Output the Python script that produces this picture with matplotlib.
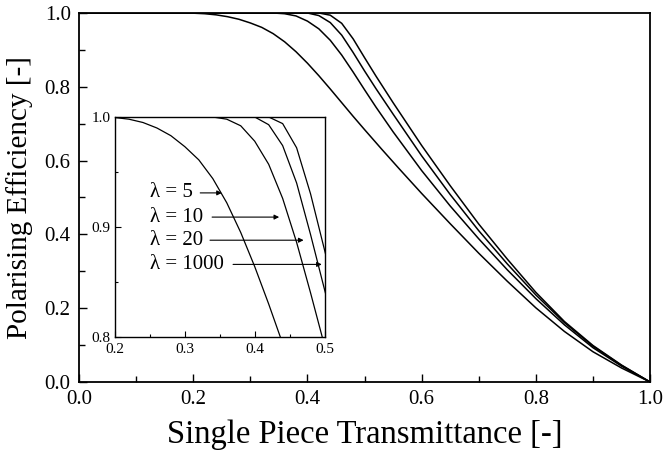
import matplotlib
matplotlib.use("Agg")
import matplotlib.pyplot as plt
from matplotlib.ticker import MultipleLocator, FormatStrFormatter

# ---- data (T = single piece transmittance, P = polarising efficiency) ----
t5 = [0.00, 0.10, 0.18, 0.20, 0.22, 0.24, 0.26, 0.28, 0.30, 0.32, 0.34, 0.36, 0.38,
      0.40, 0.42, 0.44, 0.46, 0.48, 0.50, 0.53, 0.56, 0.60, 0.65, 0.70, 0.75, 0.80,
      0.85, 0.90, 0.95, 1.00]
p5 = [1.000, 1.000, 1.000, 0.9995, 0.998, 0.995, 0.990, 0.983, 0.973, 0.961, 0.944,
      0.922, 0.895, 0.864, 0.830, 0.794, 0.757, 0.720, 0.684, 0.631, 0.579, 0.511,
      0.429, 0.349, 0.273, 0.201, 0.137, 0.082, 0.038, 0.000]

t10 = [0.00, 0.10, 0.20, 0.30, 0.34, 0.36, 0.38, 0.40, 0.42, 0.44, 0.46, 0.48, 0.50,
       0.52, 0.55, 0.60, 0.65, 0.70, 0.75, 0.80, 0.85, 0.90, 0.95, 1.00]
p10 = [1.000, 1.000, 1.000, 1.000, 1.000, 0.998, 0.992, 0.978, 0.957, 0.926, 0.886,
       0.840, 0.792, 0.745, 0.678, 0.573, 0.477, 0.388, 0.304, 0.226, 0.155, 0.093,
       0.043, 0.000]

t20 = [0.00, 0.10, 0.20, 0.30, 0.38, 0.40, 0.42, 0.44, 0.46, 0.48, 0.50, 0.52, 0.55,
       0.60, 0.65, 0.70, 0.75, 0.80, 0.85, 0.90, 0.95, 1.00]
p20 = [1.000, 1.000, 1.000, 1.000, 1.000, 1.000, 0.993, 0.974, 0.940, 0.893, 0.843,
       0.795, 0.726, 0.613, 0.508, 0.410, 0.320, 0.236, 0.161, 0.097, 0.045, 0.000]

t1000 = [0.00, 0.10, 0.20, 0.30, 0.40, 0.42, 0.44, 0.46, 0.48, 0.50, 0.52, 0.55, 0.60,
         0.65, 0.70, 0.75, 0.80, 0.85, 0.90, 0.95, 1.00]
p1000 = [1.000, 1.000, 1.000, 1.000, 1.000, 1.000, 0.994, 0.972, 0.930, 0.879, 0.829,
         0.757, 0.641, 0.532, 0.428, 0.333, 0.243, 0.164, 0.099, 0.046, 0.000]

series = [("λ = 5", t5, p5), ("λ = 10", t10, p10),
          ("λ = 20", t20, p20), ("λ = 1000", t1000, p1000)]

main_xticks = [0.0, 0.2, 0.4, 0.6, 0.8, 1.0]
main_yticks = [0.0, 0.2, 0.4, 0.6, 0.8, 1.0]
inset_xticks = [0.2, 0.3, 0.4, 0.5]
inset_yticks = [0.8, 0.9, 1.0]

xlabel = "Single Piece Transmittance [-]"
ylabel = "Polarising Efficiency [-]"

plt.rcParams['font.family'] = ['Liberation Serif', 'DejaVu Serif']

fig = plt.figure(figsize=(6.64, 4.54), dpi=100)
ax = fig.add_axes([0.119, 0.1586, 0.860, 0.8128])

for name, t, p in series:
    ax.plot(t, p, color='black', lw=1.1, solid_joinstyle='round')

ax.set_xlim(0, 1)
ax.set_ylim(0, 1)
ax.set_xticks(main_xticks)
ax.set_yticks(main_yticks)
ax.xaxis.set_minor_locator(MultipleLocator(0.1))
ax.yaxis.set_minor_locator(MultipleLocator(0.1))
ax.xaxis.set_major_formatter(FormatStrFormatter('%.1f'))
ax.yaxis.set_major_formatter(FormatStrFormatter('%.1f'))
ax.tick_params(which='both', direction='in', top=False, right=False, labelsize=15,
               width=1.0, color='black')
ax.tick_params(which='major', length=6, pad=6)
ax.tick_params(which='minor', length=4)
for s in ax.spines.values():
    s.set_linewidth(1.3)
ax.set_xlabel(xlabel, fontsize=23.5, labelpad=7)
ax.set_ylabel(ylabel, fontsize=21, labelpad=8)

# ---- inset ----
ins = fig.add_axes([0.1732, 0.2577, 0.3156, 0.4846])
for name, t, p in series:
    ins.plot(t, p, color='black', lw=0.9, solid_joinstyle='round')
ins.set_xlim(0.2, 0.5)
ins.set_ylim(0.8, 1.0)
ins.set_xticks(inset_xticks)
ins.set_yticks(inset_yticks)
ins.xaxis.set_minor_locator(MultipleLocator(0.05))
ins.yaxis.set_minor_locator(MultipleLocator(0.05))
ins.xaxis.set_major_formatter(FormatStrFormatter('%.1f'))
ins.yaxis.set_major_formatter(FormatStrFormatter('%.1f'))
ins.tick_params(which='both', direction='in', top=False, right=False, labelsize=11,
                width=0.8)
ins.tick_params(axis='x', pad=4)
ins.tick_params(axis='y', pad=3)
ins.tick_params(which='major', length=4)
ins.tick_params(which='minor', length=2.5)
for s in ins.spines.values():
    s.set_linewidth(1.0)

# labels with arrows (layout positions in inset data coords)
ann = [("λ = 5", 0.250, 0.931, 0.322, 0.353),
       ("λ = 10", 0.250, 0.909, 0.339, 0.435),
       ("λ = 20", 0.250, 0.888, 0.336, 0.470),
       ("λ = 1000", 0.250, 0.866, 0.369, 0.496)]
for txt, tx, ty, a0, a1 in ann:
    ins.text(tx, ty, txt, fontsize=15, va='center', ha='left')
    ins.annotate("", xy=(a1, ty), xytext=(a0, ty),
                 arrowprops=dict(arrowstyle='-|>', lw=0.8, color='black',
                                 mutation_scale=7, shrinkA=0, shrinkB=0))

fig.savefig("out.png", dpi=100)
